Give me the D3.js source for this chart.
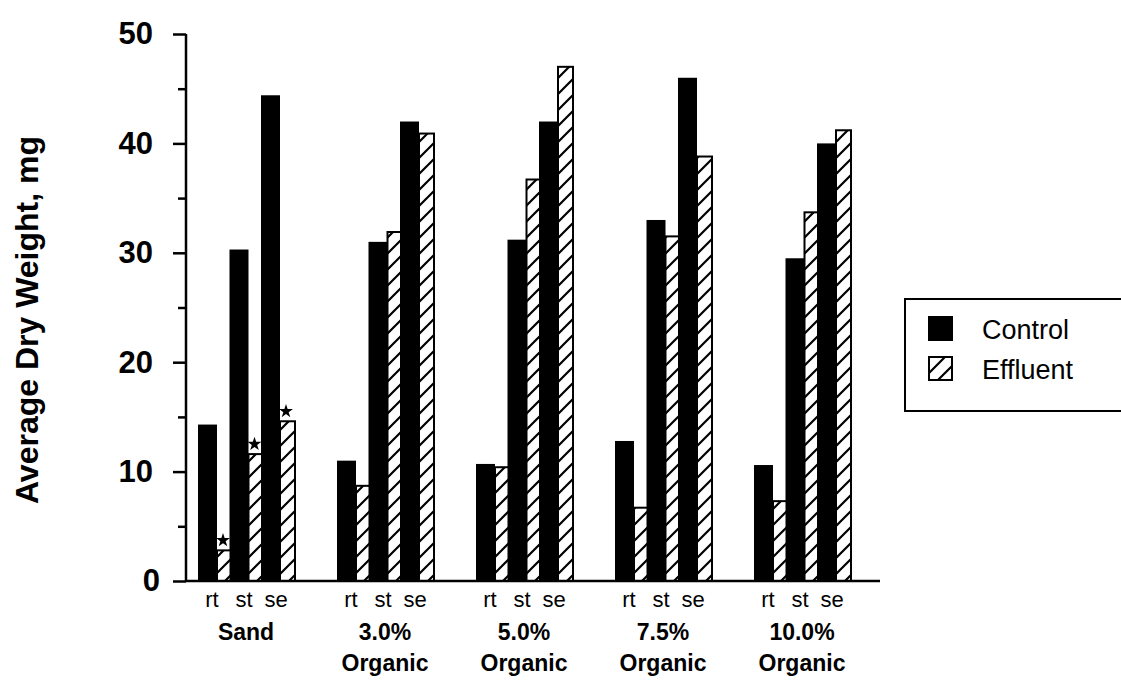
<!DOCTYPE html>
<html>
<head>
<meta charset="utf-8">
<script src="https://cdn.jsdelivr.net/npm/d3@7"></script>
<style>
  html, body { margin: 0; padding: 0; background: #fff; }
  svg { display: block; font-family: "Liberation Sans", Arial, Helvetica, sans-serif; }
</style>
</head>
<body>
<svg id="chart" width="1121" height="680"></svg>
<script>
// Soil treatments (two-line group labels) and plant parts
const groupLine1 = ["Sand", "3.0%", "5.0%", "7.5%", "10.0%"];
const groupLine2 = ["", "Organic", "Organic", "Organic", "Organic"];
const parts = ["rt", "st", "se"];

// Average dry weight (mg) per group, in rt / st / se order
const controlValues = [
  [14.3, 30.3, 44.4],
  [11.0, 31.0, 42.0],
  [10.7, 31.2, 42.0],
  [12.8, 33.0, 46.0],
  [10.6, 29.5, 40.0]
];
const effluentValues = [
  [2.8, 11.6, 14.6],
  [8.7, 31.9, 40.9],
  [10.4, 36.7, 47.0],
  [6.7, 31.5, 38.8],
  [7.3, 33.7, 41.2]
];
// Effluent means flagged with a star
const flagged = [
  [true, true, true],
  [false, false, false],
  [false, false, false],
  [false, false, false],
  [false, false, false]
];
const yTicks = [0, 10, 20, 30, 40, 50];
const yMinorTicks = [5, 15, 25, 35, 45];
const seriesNames = ["Control", "Effluent"];

const svg = d3.select("#chart");

// hatch used by effluent bars
const defs = svg.append("defs");
const pat = defs.append("pattern")
  .attr("id", "hatch")
  .attr("patternUnits", "userSpaceOnUse")
  .attr("width", 16).attr("height", 16);
pat.append("rect").attr("width", 16).attr("height", 16).attr("fill", "#fff");
pat.append("path")
  .attr("d", "M0,16 L16,0 M-4,4 L4,-4 M12,20 L20,12")
  .attr("stroke", "#000").attr("stroke-width", 2.2);

const y = d3.scaleLinear().domain([0, 50]).range([581, 34]);
const gx = d3.scaleBand().domain(d3.range(groupLine1.length)).range([198, 893]);
const px = d3.scaleBand().domain(parts).range([0, 94.5]);
const ctrlW = 19, effW = 15;
// label placement inside each group
const partLabelX = d3.scalePoint().domain(parts).range([14, 78]);
const groupLabelX = 48;

const chart = svg.append("g");

// effluent bars first, so the next control bar sits over its edge
groupLine1.forEach((g, gi) => {
  const gg = chart.append("g").attr("transform", `translate(${gx(gi)},0)`);
  gg.selectAll("rect.eff")
    .data(parts.map((p, pi) => ({ p, v: effluentValues[gi][pi] })))
    .join("rect")
    .attr("class", "eff")
    .attr("x", d => px(d.p) + ctrlW)
    .attr("y", d => y(d.v))
    .attr("width", effW)
    .attr("height", d => y(0) - y(d.v))
    .attr("fill", "url(#hatch)")
    .attr("stroke", "#000")
    .attr("stroke-width", 2);

  gg.selectAll("rect.ctrl")
    .data(parts.map((p, pi) => ({ p, v: controlValues[gi][pi] })))
    .join("rect")
    .attr("class", "ctrl")
    .attr("x", d => px(d.p))
    .attr("y", d => y(d.v))
    .attr("width", ctrlW)
    .attr("height", d => y(0) - y(d.v))
    .attr("fill", "#000");

  gg.selectAll("path.star")
    .data(parts.map((p, pi) => ({ p, v: effluentValues[gi][pi], star: flagged[gi][pi] })).filter(d => d.star))
    .join("path")
    .attr("class", "star")
    .attr("d", d3.symbol(d3.symbolStar, 60))
    .attr("transform", d => `translate(${px(d.p) + ctrlW + 6},${y(d.v) - 10})`)
    .attr("fill", "#000");

  // part labels
  gg.selectAll("text.part")
    .data(parts)
    .join("text")
    .attr("class", "part")
    .attr("x", d => partLabelX(d))
    .attr("y", 607)
    .attr("text-anchor", "middle")
    .attr("font-size", 22)
    .text(d => d);

  gg.append("text")
    .attr("x", groupLabelX).attr("y", 640)
    .attr("text-anchor", "middle")
    .attr("font-size", 23).attr("font-weight", "bold")
    .text(g);
  gg.append("text")
    .attr("x", groupLabelX).attr("y", 671)
    .attr("text-anchor", "middle")
    .attr("font-size", 23).attr("font-weight", "bold")
    .text(groupLine2[gi]);
});

// y axis with major and minor ticks
const yAxis = svg.append("g").attr("transform", "translate(186,0)");
yAxis.call(d3.axisLeft(y).tickValues(yTicks).tickSize(13).tickPadding(20).tickFormat(d3.format("d")));
yAxis.append("g").call(d3.axisLeft(y).tickValues(yMinorTicks).tickSize(8).tickFormat(""))
  .select(".domain").remove();
yAxis.selectAll(".domain").attr("stroke-width", 2.5).attr("d", `M0,${y(50)}V${y(0)}`);
yAxis.selectAll(".tick line").attr("stroke-width", 2.5);
yAxis.selectAll(".tick text")
  .attr("font-size", 31).attr("font-weight", "bold")
  .attr("font-family", "'Liberation Sans', Arial, sans-serif")
  .attr("fill", "#000");
// the zero label sits a little further right
yAxis.selectAll(".tick text").filter(d => d === 0).attr("dx", 7);

// x baseline
svg.append("line")
  .attr("x1", 186).attr("x2", 880)
  .attr("y1", y(0)).attr("y2", y(0))
  .attr("stroke", "#000").attr("stroke-width", 2.5);

// y title
svg.append("text")
  .attr("transform", `translate(38,320) rotate(-90)`)
  .attr("text-anchor", "middle")
  .attr("font-size", 32).attr("font-weight", "bold")
  .text("Average Dry Weight, mg");

// legend
const lg = svg.append("g");
lg.append("rect")
  .attr("x", 905).attr("y", 299).attr("width", 240).attr("height", 112)
  .attr("fill", "#fff").attr("stroke", "#000").attr("stroke-width", 2);
const legendRows = lg.selectAll("g.row")
  .data(seriesNames)
  .join("g")
  .attr("class", "row")
  .attr("transform", (d, i) => `translate(929,${317 + i * 40})`);
legendRows.append("rect")
  .attr("width", 23).attr("height", 23)
  .attr("fill", (d, i) => i === 0 ? "#000" : "url(#hatch)")
  .attr("stroke", "#000").attr("stroke-width", 2);
legendRows.append("text")
  .attr("x", 53).attr("y", 22)
  .attr("font-size", 27)
  .text(d => d);
</script>
</body>
</html>
